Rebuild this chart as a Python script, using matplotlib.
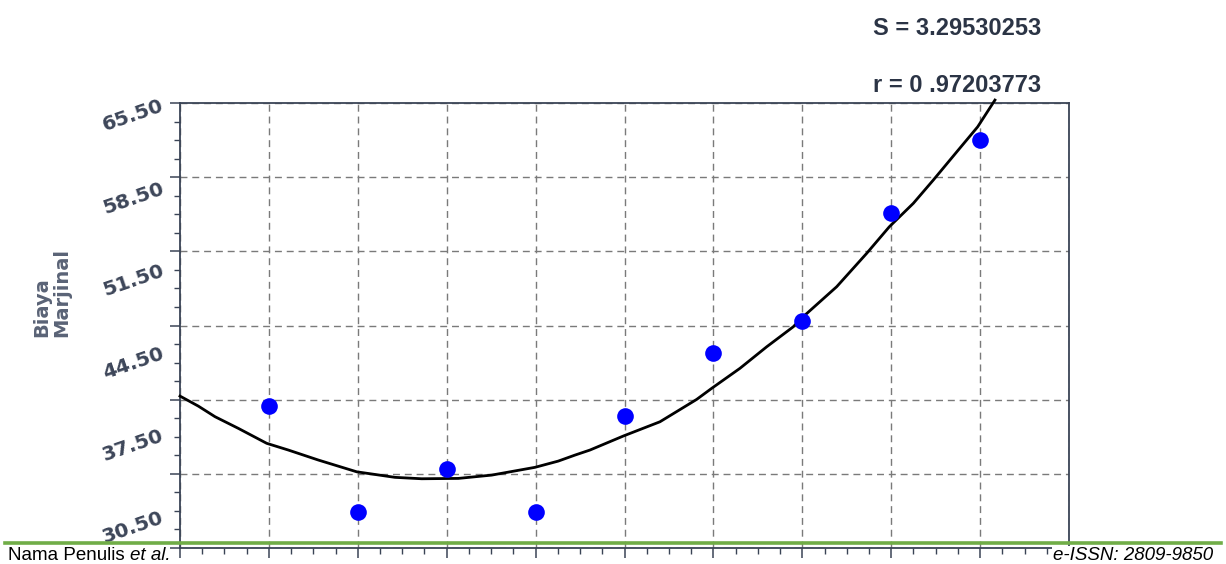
import numpy as np
import matplotlib
matplotlib.use("Agg")
import matplotlib.pyplot as plt
from matplotlib.lines import Line2D

# ---------------- data ----------------
x_points = [1, 2, 3, 4, 5, 6, 7, 8, 9]
y_points = [39.97, 30.95, 34.6, 30.95, 39.13, 44.5, 47.22, 56.34, 62.6]

# fitted curve
curve_x = [0.0, 0.206, 0.394, 0.656, 0.975, 1.218, 1.556, 1.988, 2.418, 2.719,
           3.131, 3.506, 3.993, 4.255, 4.443, 4.612, 4.987, 5.399, 5.812, 5.981,
           6.299, 6.600, 6.899, 6.989, 7.387, 7.724, 7.979, 8.249, 8.474, 8.755,
           8.973, 9.167]
curve_y = [40.82, 39.97, 39.07, 38.08, 36.81, 36.24, 35.39, 34.39, 33.92, 33.80,
           33.83, 34.11, 34.77, 35.30, 35.81, 36.24, 37.43, 38.64, 40.54, 41.48,
           43.18, 45.01, 46.71, 47.42, 50.11, 52.94, 55.20, 57.19, 59.17, 61.72,
           63.69, 65.96]

ytick_values = [65.5, 58.5, 51.5, 44.5, 37.5, 30.5]
ytick_labels = ["65.50", "58.50", "51.50", "44.50", "37.50", "30.50"]

stat_lines = ["S = 3.29530253", "r = 0 .97203773"]
y_title = "Biaya\nMarjinal"
footer_left = "Nama Penulis "
footer_left_it = "et al."
footer_right = "e-ISSN: 2809-9850"

# ---------------- layout ----------------
W, H = 1226, 564
fig = plt.figure(figsize=(W / 100, H / 100), dpi=100)
fig.patch.set_facecolor("white")

ax_l, ax_r, ax_t, ax_b = 180, 1069, 103, 548
ax = fig.add_axes([ax_l / W, (H - ax_b) / H, (ax_r - ax_l) / W, (ax_b - ax_t) / H])

Y_MIN, Y_MAX = 27.92, 65.71
X_MIN, X_MAX = 0, 10
ax.set_xlim(X_MIN, X_MAX)
ax.set_ylim(Y_MIN, Y_MAX)

spine_col = "#3a4456"
text_col = "#2b3445"
for s in ax.spines.values():
    s.set_color(spine_col)
    s.set_linewidth(1.3)

# grid / ticks
ax.set_xticks(np.arange(X_MIN, X_MAX + 1, 1))
ax.set_xticks(np.arange(X_MIN, X_MAX + 0.001, 0.25), minor=True)
ax.set_yticks(np.linspace(Y_MIN, Y_MAX, 7))
ax.set_yticks(np.linspace(Y_MIN, Y_MAX, 25), minor=True)
ax.tick_params(which="major", length=7, width=1.1, color=spine_col,
               labelleft=False, labelbottom=False, direction="out")
ax.tick_params(which="minor", length=4.5, width=1.0, color=spine_col, direction="out")
ax.grid(True, which="major", color="#7a7a7a", linestyle=(0, (5, 3.5)), linewidth=1.0)
ax.set_axisbelow(True)

# y tick labels (rotated)
sec = ax.secondary_yaxis("left")
sec.set_yticks(ytick_values, labels=ytick_labels)
sec.spines["left"].set_visible(False)
sec.tick_params(length=0, pad=12)
for lab in sec.get_yticklabels():
    lab.set_rotation(19)
    lab.set_rotation_mode("anchor")
    lab.set_ha("right")
    lab.set_va("center")
    lab.set_fontfamily(["DejaVu Sans"])
    lab.set_fontweight("bold")
    lab.set_fontsize(14.5)
    lab.set_color("#3d4659")

# data
ax.plot(curve_x, curve_y, color="black", linewidth=2.0, clip_on=False, zorder=3,
        solid_joinstyle="round")
ax.plot(x_points, y_points, linestyle="none", marker="o", markersize=12,
        color="#0000ff", markeredgewidth=0, zorder=4, clip_on=False)

# stats text
sans = ["Liberation Sans", "DejaVu Sans"]
fig.text(873 / W, 1 - 35 / H, stat_lines[0], ha="left", va="baseline",
         fontsize=17, fontweight="bold", color=text_col, family=sans)
fig.text(873 / W, 1 - 92 / H, stat_lines[1], ha="left", va="baseline",
         fontsize=17, fontweight="bold", color=text_col, family=sans)

# y axis title
fig.text(52 / W, 1 - 337 / H, y_title, rotation=90, ha="center", va="bottom",
         multialignment="left", fontsize=14, fontweight="bold", color="#5a6376",
         family=["DejaVu Sans"], linespacing=1.05)

# green rule
fig.add_artist(Line2D([5 / W, 1221 / W], [1 - 543.3 / H, 1 - 543.3 / H],
                      transform=fig.transFigure, color="#70ad47", linewidth=2.6,
                      zorder=20))

# footer
t1 = fig.text(8 / W, 3.5 / H, footer_left, ha="left", va="baseline",
              fontsize=13.5, color="black", family=sans, zorder=21)
fig.canvas.draw()
bb = t1.get_window_extent()
fig.text(bb.x1 / W, 3.5 / H, footer_left_it, ha="left", va="baseline",
         fontsize=13.5, color="black", family=sans, style="italic", zorder=21)
fig.text(1213 / W, 3.5 / H, footer_right, ha="right", va="baseline",
         fontsize=13.5, color="black", family=sans, style="italic", zorder=21,
         bbox=dict(facecolor="white", edgecolor="none", pad=1))

fig.savefig("out.png", dpi=100, facecolor="white")
